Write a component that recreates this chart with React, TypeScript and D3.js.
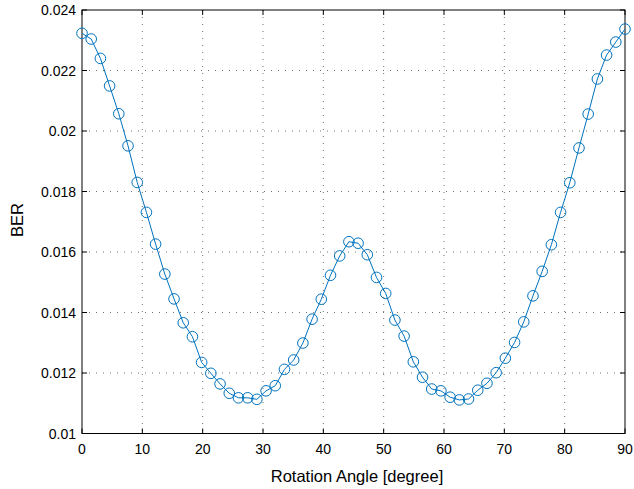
import React from "react";
import * as d3 from "d3";

const berValues = [
  0.02323, 0.02304, 0.0224, 0.02149, 0.02057, 0.01951, 0.0183, 0.01731, 0.01626, 0.01527,
  0.01445, 0.01366, 0.0132, 0.01235, 0.01199, 0.01164, 0.01133, 0.01118, 0.01118, 0.01113,
  0.01141, 0.01158, 0.01212, 0.01243, 0.01299, 0.01378, 0.01444, 0.01523, 0.01587, 0.01634,
  0.01629, 0.01591, 0.01516, 0.01463, 0.01375, 0.01322, 0.01237, 0.01186, 0.01147, 0.01141,
  0.0112, 0.01111, 0.01114, 0.01143, 0.01166, 0.01201, 0.01249, 0.01301, 0.01369, 0.01455,
  0.01536, 0.01624, 0.01731, 0.01829, 0.01944, 0.02056, 0.02172, 0.02251, 0.02294, 0.02337,
];
const angleStart = 0;
const angleEnd = 90;
const angles = berValues.map((_, i) => angleStart + (i * (angleEnd - angleStart)) / (berValues.length - 1));

const xTicks = [0, 10, 20, 30, 40, 50, 60, 70, 80, 90];
const yTicks = [0.01, 0.012, 0.014, 0.016, 0.018, 0.02, 0.022, 0.024];
const yTickLabels = ["0.01", "0.012", "0.014", "0.016", "0.018", "0.02", "0.022", "0.024"];
const xLabel = "Rotation Angle [degree]";
const yLabel = "BER";

const W = 634;
const H = 489;
const L = 82, R = 625, T = 10, B = 433.5;
const color = "#0072BD";
const font = "'Liberation Sans', Arial, Helvetica, sans-serif";

export default function App() {
  const x = d3.scaleLinear().domain([0, 90]).range([L, R]);
  const y = d3.scaleLinear().domain([0.01, 0.024]).range([B, T]);
  const line = d3
    .line<number>()
    .x((_, i) => x(angles[i]))
    .y((d) => y(d));
  const tick = 5;
  return (
    <svg
      width={W}
      height={H}
      style={{ position: "absolute", left: 0, top: 0, background: "#fff" }}
      fontFamily={font}
    >
      <rect x={0} y={0} width={W} height={H} fill="#fff" />
      {/* grid */}
      {xTicks.slice(1, -1).map((t) => (
        <line key={"gx" + t} x1={x(t)} x2={x(t)} y1={T} y2={B} stroke="#333" strokeOpacity={0.7} strokeWidth={1} strokeDasharray="1,6" />
      ))}
      {yTicks.slice(1, -1).map((t) => (
        <line key={"gy" + t} x1={L} x2={R} y1={y(t)} y2={y(t)} stroke="#333" strokeOpacity={0.7} strokeWidth={1} strokeDasharray="1,6" />
      ))}
      {/* ticks */}
      {xTicks.map((t) => (
        <g key={"tx" + t}>
          <line x1={x(t)} x2={x(t)} y1={B} y2={B - tick} stroke="#000" />
          <line x1={x(t)} x2={x(t)} y1={T} y2={T + tick} stroke="#000" />
          <text x={x(t)} y={454} fontSize={14} textAnchor="middle" fill="#000">{t}</text>
        </g>
      ))}
      {yTicks.map((t, i) => (
        <g key={"ty" + t}>
          <line x1={L} x2={L + tick} y1={y(t)} y2={y(t)} stroke="#000" />
          <line x1={R} x2={R - tick} y1={y(t)} y2={y(t)} stroke="#000" />
          <text x={L - 6} y={y(t) + 5} fontSize={14} textAnchor="end" fill="#000">{yTickLabels[i]}</text>
        </g>
      ))}
      {/* box */}
      <rect x={L} y={T} width={R - L} height={B - T} fill="none" stroke="#000" strokeWidth={1} />
      {/* data */}
      <path d={line(berValues) || ""} fill="none" stroke={color} strokeWidth={1} />
      {berValues.map((v, i) => (
        <circle key={i} cx={x(angles[i])} cy={y(v)} r={5.3} fill="none" stroke={color} strokeWidth={1} />
      ))}
      <text x={357} y={482} fontSize={16.5} textAnchor="middle" fill="#000">{xLabel}</text>
      <text transform={`translate(23,220) rotate(-90)`} fontSize={16.5} textAnchor="middle" fill="#000">{yLabel}</text>
    </svg>
  );
}
